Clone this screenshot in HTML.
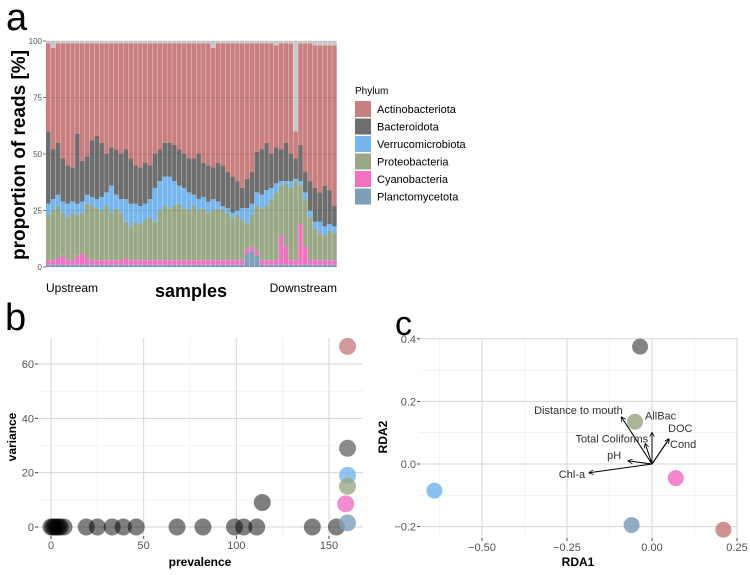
<!DOCTYPE html>
<html><head><meta charset="utf-8"><style>
body{margin:0;background:#fff;}
svg{display:block;font-family:"Liberation Sans","DejaVu Sans",sans-serif;}
</style></head><body>
<svg id="fig" width="750" height="575" viewBox="0 0 750 575">
<g id="pa"></g>
<g id="pb"></g>
<g id="pc"></g>
</svg>
<script>
// ---------- Panel a data ----------
const planc = [1,1,1,1,1, 1,1,1,1,1, 1,1,1,1,1, 1,1,1,1,1, 1,1,1,1,1, 1,1,1,1,1, 1,1,1,1,1, 1,1,1,1,1, 1,6,7,5,1, 1,1,1,1,1, 1,1,1,1,1, 1,1,1,1,1];
const cyano = [2,2,3,4,2, 2,4,5,3,2, 2,2,2,2,2, 2,3,2,2,2, 2,2,2,2,2, 2,2,2,2,2, 2,2,2,2,2, 2,2,2,2,2, 2,2,2,2,2, 2,2,2,13,8, 2,2,18,8,2, 2,2,2,2,2];
const proteo = [20,22,23,19,19, 21,18,18,24,24, 23,22,24,21,23, 21,16,15,17,16, 18,19,17,22,24, 23,24,25,23,22, 24,22,23,21,22, 23,22,21,19,20, 18,11,14,20,23, 24,27,30,22,28, 32,35,17,21,19, 14,12,11,13,12];
const verruco = [5,5,5,5,6, 5,5,5,4,4, 4,6,6,12,6, 6,10,10,8,8, 7,8,15,13,13, 14,11,8,9,8, 5,5,5,5,5, 3,2,2,2,2, 5,7,5,6,6, 7,5,4,2,1, 3,1,2,3,3, 3,5,4,3,3];
const bacteroid = [32,22,23,19,17, 15,31,18,17,25, 28,24,17,17,20, 20,22,20,17,17, 18,15,15,14,15, 15,16,16,15,15, 16,20,15,16,14, 17,18,16,16,13, 9,13,14,18,20, 21,15,16,14,17, 12,9,16,9,13, 15,13,18,15,9];
const other = [1,3,1,1,1, 1,1,1,1,1, 1,1,1,1,1, 1,1,1,1,1, 1,1,1,1,1, 1,1,1,1,1, 1,1,1,1,3, 1,1,1,1,1, 1,1,1,1,1, 1,1,2,1,1, 1,40,1,1,1, 2,2,2,2,2];
const aTicks = [0,25,50,75,100];
const phyla = ["Actinobacteriota","Bacteroidota","Verrucomicrobiota","Proteobacteria","Cyanobacteria","Planctomycetota"];
const phylaColors = ["#c97f7f","#6e6e6e","#75b5f0","#9aa985","#f171c4","#7e9fba"];

// ---------- Panel b data ----------
const prevalence = [0,1,2,3,4,5,7,19,25,33,39,46,68,82,99,104,111,114,141,154,160,160,160,160,159,160];
const variance   = [0,0,0,0,0,0,0,0,0,0,0,0,0,0,0,0,0,9,0,0,66.5,29,19,15,8.5,1.5];
const bColorIdx  = [-1,-1,-1,-1,-1,-1,-1,-1,-1,-1,-1,-1,-1,-1,-1,-1,-1,-1,-1,-1,0,1,2,3,4,5];
const bXTicks = [0,50,100,150];
const bYTicks = [0,20,40,60];

// ---------- Panel c data ----------
const rda1 = [0.21,-0.035,-0.64,-0.05,0.07,-0.06];
const rda2 = [-0.21,0.375,-0.085,0.135,-0.045,-0.195];
const envNames = ["Distance to mouth","AllBac","Total Coliforms","DOC","Cond","pH","Chl-a"];
const envX = [-0.09,0,-0.02,0.05,0.05,-0.07,-0.185];
const envY = [0.15,0.10,0.065,0.08,0.08,0.01,-0.028];
const cXTicks = [-0.5,-0.25,0,0.25];
const cXLabels = ["\u22120.50","\u22120.25","0.00","0.25"];
const cYTicks = [-0.2,0,0.2,0.4];
const cYLabels = ["\u22120.2","0.0","0.2","0.4"];

const NS="http://www.w3.org/2000/svg";
function mk(parent,tag,attrs,text){const e=document.createElementNS(NS,tag);for(const k in attrs)e.setAttribute(k,attrs[k]);if(text!==undefined)e.textContent=text;parent.appendChild(e);return e;}

// ---------- Panel a ----------
(function(){
const g=document.getElementById('pa');
const x0=46,x1=337,yTop=41,yBot=267;
const ya=v=>yBot-(v/100)*(yBot-yTop);
const n=proteo.length, bw=(x1-x0)/n;
const layers=[planc,cyano,proteo,verruco,bacteroid];
const layerColors=[phylaColors[5],phylaColors[4],phylaColors[3],phylaColors[2],phylaColors[1]];
for(let i=0;i<n;i++){
  let cum=0;
  const xs=x0+i*bw;
  for(let L=0;L<layers.length;L++){
    const v=layers[L][i];
    const r=mk(g,'rect',{x:xs,y:ya(cum+v),width:bw-0.3,height:ya(cum)-ya(cum+v),fill:layerColors[L]});
    
    
    cum+=v;
  }
  const act=100-cum-other[i];
  const ra=mk(g,'rect',{x:xs,y:ya(cum+act),width:bw-0.3,height:ya(cum)-ya(cum+act),fill:phylaColors[0]});
  
  
  const ro=mk(g,'rect',{x:xs,y:ya(100),width:bw-0.3,height:ya(cum+act)-ya(100),fill:"#c9c9c9"});
  
  
}
aTicks.forEach(t=>{
  mk(g,'line',{x1:x0,x2:x1,y1:ya(t),y2:ya(t),stroke:"#000",'stroke-opacity':0.08,'stroke-width':1});
  mk(g,'line',{x1:x0-3,x2:x0,y1:ya(t),y2:ya(t),stroke:"#555",'stroke-width':0.8});
  const tl=mk(g,'text',{x:x0-4,y:ya(t)+3,'font-size':8,'text-anchor':'end',fill:'#555'},t);
  
  
});
mk(g,'text',{x:6,y:30,'font-size':38,fill:'#000',},'a');
mk(g,'text',{transform:'translate(25,155) rotate(-90)','font-size':19,'font-weight':'bold','text-anchor':'middle',},'proportion of reads [%]');
mk(g,'text',{x:46,y:292,'font-size':12,},'Upstream');
mk(g,'text',{x:337,y:292,'font-size':12,'text-anchor':'end',},'Downstream');
mk(g,'text',{x:191,y:297,'font-size':18,'font-weight':'bold','text-anchor':'middle',},'samples');
const lg=mk(g,'g',{});
mk(lg,'text',{x:355,y:94,'font-size':10,},'Phylum');
phyla.forEach((p,i)=>{
  const y=101+i*17.5;
  const e=mk(lg,'g',{});
  
  
  mk(e,'rect',{x:355,y:y,width:16,height:16,fill:phylaColors[i]});
  mk(e,'text',{x:377,y:y+12,'font-size':11},p);
});
})();

// ---------- Panel b ----------
(function(){
const g=document.getElementById('pb');
const L=38,R=363,T=338,B=536;
const xb=v=>51+v*(329-51)/150;
const yb=v=>527-v*(527-364)/60;
mk(g,'rect',{x:L,y:T,width:R-L,height:B-T,fill:'#fff'});
[25,75,125].forEach(t=>mk(g,'line',{x1:xb(t),x2:xb(t),y1:T,y2:B,stroke:'#ebebeb','stroke-width':0.6}));
[10,30,50].forEach(t=>mk(g,'line',{x1:L,x2:R,y1:yb(t),y2:yb(t),stroke:'#ebebeb','stroke-width':0.6}));
bXTicks.forEach(t=>{
  mk(g,'line',{x1:xb(t),x2:xb(t),y1:T,y2:B,stroke:'#d6d6d6','stroke-width':1});
  mk(g,'line',{x1:xb(t),x2:xb(t),y1:B,y2:B+3,stroke:'#444'});
  const tl=mk(g,'text',{x:xb(t),y:B+13,'font-size':11,'text-anchor':'middle',fill:'#555'},t);
  
  
});
bYTicks.forEach(t=>{
  mk(g,'line',{x1:L,x2:R,y1:yb(t),y2:yb(t),stroke:'#d6d6d6','stroke-width':1});
  mk(g,'line',{x1:L-3,x2:L,y1:yb(t),y2:yb(t),stroke:'#444'});
  const tl=mk(g,'text',{x:L-4,y:yb(t)+4,'font-size':11,'text-anchor':'end',fill:'#555'},t);
  
  
});
prevalence.forEach((p,i)=>{
  const ci=bColorIdx[i];
  const c=mk(g,'circle',{cx:xb(p),cy:yb(variance[i]),r:8.5,fill:ci<0?'#000':phylaColors[ci],'fill-opacity':ci<0?0.5:0.8});
  
  
});
mk(g,'text',{x:5,y:330,'font-size':38,},'b');
mk(g,'text',{transform:'translate(16,437) rotate(-90)','font-size':12,'font-weight':'bold','text-anchor':'middle',},'variance');
mk(g,'text',{x:200,y:566,'font-size':12,'font-weight':'bold','text-anchor':'middle',},'prevalence');
})();

// ---------- Panel c ----------
(function(){
const g=document.getElementById('pc');
const L=420,R=737,T=338,B=538;
const xc=v=>652+v*340;
const yc=v=>464-v*313;
[-0.625,-0.375,-0.125,0.125].forEach(t=>mk(g,'line',{x1:xc(t),x2:xc(t),y1:T,y2:B,stroke:'#ebebeb','stroke-width':0.6}));
[-0.1,0.1,0.3].forEach(t=>mk(g,'line',{x1:L,x2:R,y1:yc(t),y2:yc(t),stroke:'#ebebeb','stroke-width':0.6}));
cXTicks.forEach((t,i)=>{
  mk(g,'line',{x1:xc(t),x2:xc(t),y1:T,y2:B,stroke:'#d6d6d6','stroke-width':1});
  mk(g,'line',{x1:xc(t),x2:xc(t),y1:B,y2:B+3,stroke:'#444'});
  const tl=mk(g,'text',{x:xc(t),y:B+13,'font-size':11,'text-anchor':'middle',fill:'#555'},cXLabels[i]);
  
  
});
cYTicks.forEach((t,i)=>{
  mk(g,'line',{x1:L,x2:R,y1:yc(t),y2:yc(t),stroke:'#d6d6d6','stroke-width':1});
  mk(g,'line',{x1:L-3,x2:L,y1:yc(t),y2:yc(t),stroke:'#444'});
  const tl=mk(g,'text',{x:L-4,y:yc(t)+4,'font-size':11,'text-anchor':'end',fill:'#555'},cYLabels[i]);
  
  
});
rda1.forEach((v,i)=>{
  const c=mk(g,'circle',{cx:xc(v),cy:yc(rda2[i]),r:8,fill:phylaColors[i],'fill-opacity':0.85});
  
  
});
const defs=mk(g,'defs',{});
const mkr=mk(defs,'marker',{id:'arr',viewBox:'0 0 10 10',refX:9,refY:5,markerWidth:5,markerHeight:5,orient:'auto-start-reverse'});
mk(mkr,'path',{d:'M0,0 L10,5 L0,10',fill:'none',stroke:'#000','stroke-width':1.5});
// label offsets (pixels) relative to arrow tip, and text anchor
const lblDX=[-43,-7,3,-1,1,-7,-4];
const lblDY=[-3,-13,-1,-7,9,-2,5];
const lblAnchor=['middle','start','end','start','start','end','end'];
envNames.forEach((n,i)=>{
  const a=mk(g,'line',{x1:xc(0),y1:yc(0),x2:xc(envX[i]),y2:yc(envY[i]),stroke:'#000','stroke-width':1,'marker-end':'url(#arr)'});
  
  
  const t=mk(g,'text',{x:xc(envX[i])+lblDX[i],y:yc(envY[i])+lblDY[i],'font-size':11,'text-anchor':lblAnchor[i],fill:'#333'},n);
  
  
});
mk(g,'text',{x:395,y:335,'font-size':34,},'c');
mk(g,'text',{transform:'translate(387,437) rotate(-90)','font-size':12,'font-weight':'bold','text-anchor':'middle',},'RDA2');
mk(g,'text',{x:578,y:566,'font-size':12,'font-weight':'bold','text-anchor':'middle',},'RDA1');
})();
</script>
</body></html>
